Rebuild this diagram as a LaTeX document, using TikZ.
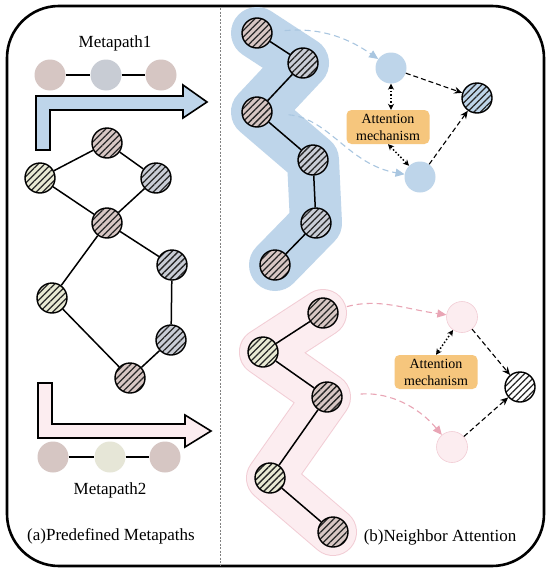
\documentclass[tikz,border=0pt]{standalone}
\usepackage{fontspec}
\setmainfont{Liberation Serif}
\usetikzlibrary{patterns.meta,arrows.meta}
\definecolor{cpink}{HTML}{D8C7C4}
\definecolor{cgray}{HTML}{C9CDD6}
\definecolor{cyel}{HTML}{E9EAD4}
\definecolor{cblue}{HTML}{BED5EA}
\definecolor{blobblue}{HTML}{BED5EA}
\definecolor{blobpink}{HTML}{FCEDF0}
\definecolor{blobpinkline}{HTML}{F2CDD5}
\definecolor{dashblue}{HTML}{A9C6E0}
\definecolor{dashpink}{HTML}{E9A5B5}
\definecolor{mpink}{HTML}{D6C6C3}
\definecolor{mgray}{HTML}{C8CCD4}
\definecolor{myel}{HTML}{E6E6D7}
\definecolor{attorange}{HTML}{F6C67D}
\tikzset{
  hn/.style={circle, draw=black, line width=1.4pt, minimum size=30pt, inner sep=0pt,
    preaction={fill=#1}, pattern={Lines[angle=45,distance=4.6pt,line width=1.3pt]}, pattern color=black!85},
  mc/.style={circle, fill=#1, minimum size=31pt, inner sep=0pt},
  sc/.style={circle, fill=#1, minimum size=31pt, inner sep=0pt},
  edge/.style={line width=1.5pt, black},
  lbl/.style={font=\fontsize{17}{20}\selectfont},
  attbox/.style={fill=attorange, rounded corners=5pt, minimum width=83pt, minimum height=34pt,
    align=center, inner sep=1pt, font=\fontsize{14}{17}\selectfont},
  blkarrow/.style={dashed, dash pattern=on 5pt off 3pt, line width=1.1pt, -{Stealth[length=8pt,width=7pt]}},
  dblarrow/.style={dotted, line width=1.5pt, {Stealth[length=6pt,width=6pt]}-{Stealth[length=6pt,width=6pt]}},
  colarrow/.style={dashed, dash pattern=on 6pt off 4pt, line width=1.1pt, draw=#1, -{Triangle[length=9pt,width=8pt,fill=#1]}}
}
\begin{document}
\begin{tikzpicture}[x=1pt,y=-1pt]
\useasboundingbox (0,0) rectangle (550,573);
\fill[white] (0,0) rectangle (550,573);
% frame
\draw[line width=2.6pt, rounded corners=52pt] (7,6) rectangle (544,566);
\draw[gray, line width=1pt, dash pattern=on 2pt off 1.5pt] (220,8) -- (220,565);

% ===== left panel =====
\node[lbl] (mp1) at (115,43) {Metapath1};
\node[mc=mpink] (a1) at (50,75) {};
\node[mc=mgray] (a2) at (106,75) {};
\node[mc=mpink] (a3) at (161,75) {};
\draw[edge] (a1) -- (a2) -- (a3);

\draw[fill=blobblue, line width=1.6pt] (36,150) -- (36,96) -- (183,96) -- (183,85) -- (207,102)
  -- (183,118) -- (183,110) -- (50,110) -- (50,150) -- cycle;

\node[hn=cpink] (g1) at (107,143) {};
\node[hn=cyel]  (g2) at (40,178) {};
\node[hn=cgray] (g3) at (156,178) {};
\node[hn=cpink] (g4) at (107,223) {};
\node[hn=cgray] (g5) at (172,265) {};
\node[hn=cyel]  (g6) at (52,298) {};
\node[hn=cgray] (g7) at (171,340) {};
\node[hn=cpink] (g8) at (130,378) {};
\draw[edge] (g1) -- (g2);
\draw[edge] (g1) -- (g3);
\draw[edge] (g2) -- (g4);
\draw[edge] (g3) -- (g4);
\draw[edge] (g4) -- (g5);
\draw[edge] (g4) -- (g6);
\draw[edge] (g5) -- (g7);
\draw[edge] (g6) -- (g8);
\draw[edge] (g7) -- (g8);

\draw[fill=blobpink, line width=1.6pt] (38,383) -- (52,383) -- (52,424) -- (185,424) -- (185,415)
  -- (211,431) -- (185,447) -- (185,438) -- (38,438) -- cycle;

\node[mc=mpink] (b1) at (53,457) {};
\node[mc=myel]  (b2) at (110,457) {};
\node[mc=mpink] (b3) at (165,457) {};
\draw[edge] (b1) -- (b2) -- (b3);
\node[lbl] (mp2) at (110,490) {Metapath2};
\node[lbl] (capa) at (111,536) {(a)Predefined Metapaths};

% ===== right panel, top =====
\coordinate (u1) at (257,33);
\coordinate (u2) at (303,63);
\coordinate (u3) at (257,112);
\coordinate (u4) at (313,160);
\coordinate (u5) at (316,223);
\coordinate (u6) at (275,265);
\draw[blobblue, line width=52pt, line cap=round, line join=round]
  (u1) -- (u2) -- (u3) -- (u4) -- (u5) -- (u6);
\node[hn=cpink] (n1) at (u1) {};
\node[hn=cgray] (n2) at (u2) {};
\node[hn=cpink] (n3) at (u3) {};
\node[hn=cgray] (n4) at (u4) {};
\node[hn=cgray] (n5) at (u5) {};
\node[hn=cpink] (n6) at (u6) {};
\draw[edge] (n1) -- (n2);
\draw[edge] (n2) -- (n3);
\draw[edge] (n3) -- (n4);
\draw[edge] (n4) -- (n5);
\draw[edge] (n5) -- (n6);

\node[sc=cblue] (c1) at (391,68) {};
\node[sc=cblue] (c2) at (420,177) {};
\node[hn=cblue] (t1) at (477,98) {};
\node[attbox] (att1) at (388,127) {Attention\\mechanism};

\draw[colarrow=dashblue, shorten <=12pt] (n1) to[out=5,in=145] (c1);
\draw[colarrow=dashblue, shorten <=16pt] (n3) to[out=-5,in=170] (c2);
\draw[dblarrow] (c1) -- (att1.north -| c1);
\draw[dblarrow] (att1.south) -- (c2);
\draw[blkarrow] (c1) -- (t1);
\draw[blkarrow] (c2) -- (t1);

% ===== right panel, bottom =====
\coordinate (v1) at (323,313);
\coordinate (v2) at (263,352);
\coordinate (v3) at (327,397);
\coordinate (v4) at (270,478);
\coordinate (v5) at (333,532);
\draw[blobpinkline, line width=48pt, line cap=round, line join=round]
  (v1) -- (v2) -- (v3) -- (v4) -- (v5);
\draw[blobpink, line width=46pt, line cap=round, line join=round]
  (v1) -- (v2) -- (v3) -- (v4) -- (v5);
\node[hn=cpink] (p1) at (v1) {};
\node[hn=cyel]  (p2) at (v2) {};
\node[hn=cpink] (p3) at (v3) {};
\node[hn=cyel]  (p4) at (v4) {};
\node[hn=cpink] (p5) at (v5) {};
\draw[edge] (p1) -- (p2);
\draw[edge] (p2) -- (p3);
\draw[edge] (p3) -- (p4);
\draw[edge] (p4) -- (p5);

\node[sc=blobpink, draw=blobpinkline, line width=0.6pt] (q1) at (462,317) {};
\node[sc=blobpink, draw=blobpinkline, line width=0.6pt] (q2) at (452,447) {};
\node[hn=white] (t2) at (520,387) {};
\node[attbox] (att2) at (436,372) {Attention\\mechanism};

\draw[colarrow=dashpink, shorten <=9pt] (p1) to[out=15,in=172] (q1);
\draw[colarrow=dashpink, shorten <=18pt] (p3) to[out=5,in=130] (q2);
\draw[dblarrow] (q1) -- (att2.north);
\draw[blkarrow] (q1) -- (t2);
\draw[blkarrow] (q2) -- (t2);

\node[lbl] (capb) at (440,537) {(b)Neighbor Attention};
\end{tikzpicture}
\end{document}
